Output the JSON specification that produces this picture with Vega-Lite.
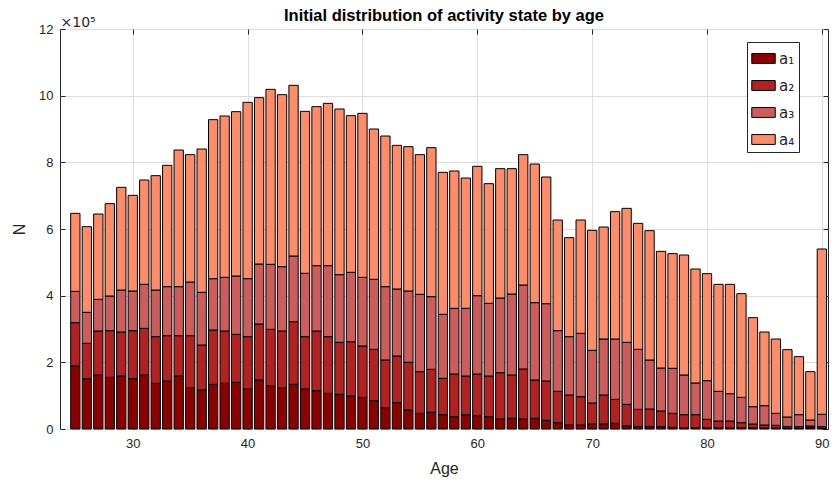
{
  "$schema": "https://vega.github.io/schema/vega-lite/v6.json",
  "width": 768,
  "height": 400,
  "autosize": "none",
  "padding": {"left": 60, "top": 29, "right": 10, "bottom": 52},
  "background": "white",
  "config": {
    "font": "Liberation Sans",
    "view": {"stroke": "#262626", "strokeWidth": 1},
    "axis": {
      "labelFont": "Liberation Sans",
      "labelFontSize": 13,
      "labelColor": "#262626",
      "titleFont": "Liberation Sans",
      "titleFontSize": 16,
      "titleFontWeight": "normal",
      "titleColor": "#262626",
      "gridColor": "#dedede",
      "gridWidth": 1,
      "domain": false,
      "tickColor": "#262626",
      "tickSize": -5,
      "labelPadding": 13
    }
  },
  "title": {
    "text": "Initial distribution of activity state by age",
    "fontSize": 16.5,
    "fontWeight": "bold",
    "font": "Liberation Sans",
    "color": "black",
    "anchor": "middle",
    "offset": -9
  },
  "data": {
    "values": [
      {"age": 25, "a1": 189000, "a2": 130000, "a3": 94000, "a4": 234000},
      {"age": 26, "a1": 151000, "a2": 106000, "a3": 93000, "a4": 257000},
      {"age": 27, "a1": 162000, "a2": 132000, "a3": 95000, "a4": 256000},
      {"age": 28, "a1": 155000, "a2": 140000, "a3": 104000, "a4": 277000},
      {"age": 29, "a1": 159000, "a2": 132000, "a3": 126000, "a4": 308000},
      {"age": 30, "a1": 151000, "a2": 144000, "a3": 119000, "a4": 287000},
      {"age": 31, "a1": 162000, "a2": 140000, "a3": 132000, "a4": 313000},
      {"age": 32, "a1": 137000, "a2": 140000, "a3": 140000, "a4": 343000},
      {"age": 33, "a1": 144000, "a2": 136000, "a3": 147000, "a4": 364000},
      {"age": 34, "a1": 159000, "a2": 121000, "a3": 147000, "a4": 410000},
      {"age": 35, "a1": 124000, "a2": 156000, "a3": 161000, "a4": 382000},
      {"age": 36, "a1": 117000, "a2": 135000, "a3": 158000, "a4": 430000},
      {"age": 37, "a1": 134000, "a2": 163000, "a3": 154000, "a4": 477000},
      {"age": 38, "a1": 137000, "a2": 157000, "a3": 161000, "a4": 484000},
      {"age": 39, "a1": 140000, "a2": 144000, "a3": 175000, "a4": 493000},
      {"age": 40, "a1": 120000, "a2": 157000, "a3": 174000, "a4": 529000},
      {"age": 41, "a1": 147000, "a2": 168000, "a3": 180000, "a4": 499000},
      {"age": 42, "a1": 130000, "a2": 169000, "a3": 195000, "a4": 525000},
      {"age": 43, "a1": 124000, "a2": 170000, "a3": 193000, "a4": 516000},
      {"age": 44, "a1": 134000, "a2": 188000, "a3": 197000, "a4": 512000},
      {"age": 45, "a1": 120000, "a2": 157000, "a3": 190000, "a4": 486000},
      {"age": 46, "a1": 115000, "a2": 179000, "a3": 196000, "a4": 477000},
      {"age": 47, "a1": 107000, "a2": 170000, "a3": 213000, "a4": 487000},
      {"age": 48, "a1": 104000, "a2": 156000, "a3": 203000, "a4": 497000},
      {"age": 49, "a1": 99000, "a2": 163000, "a3": 208000, "a4": 470000},
      {"age": 50, "a1": 95000, "a2": 154000, "a3": 206000, "a4": 492000},
      {"age": 51, "a1": 85000, "a2": 154000, "a3": 210000, "a4": 451000},
      {"age": 52, "a1": 64000, "a2": 143000, "a3": 220000, "a4": 452000},
      {"age": 53, "a1": 79000, "a2": 140000, "a3": 201000, "a4": 431000},
      {"age": 54, "a1": 57000, "a2": 143000, "a3": 214000, "a4": 433000},
      {"age": 55, "a1": 47000, "a2": 125000, "a3": 232000, "a4": 419000},
      {"age": 56, "a1": 50000, "a2": 129000, "a3": 218000, "a4": 447000},
      {"age": 57, "a1": 43000, "a2": 109000, "a3": 192000, "a4": 426000},
      {"age": 58, "a1": 37000, "a2": 128000, "a3": 197000, "a4": 412000},
      {"age": 59, "a1": 43000, "a2": 116000, "a3": 203000, "a4": 391000},
      {"age": 60, "a1": 40000, "a2": 125000, "a3": 235000, "a4": 388000},
      {"age": 61, "a1": 37000, "a2": 122000, "a3": 218000, "a4": 359000},
      {"age": 62, "a1": 30000, "a2": 139000, "a3": 224000, "a4": 388000},
      {"age": 63, "a1": 32000, "a2": 130000, "a3": 243000, "a4": 376000},
      {"age": 64, "a1": 30000, "a2": 150000, "a3": 252000, "a4": 391000},
      {"age": 65, "a1": 32000, "a2": 115000, "a3": 232000, "a4": 416000},
      {"age": 66, "a1": 26000, "a2": 118000, "a3": 232000, "a4": 380000},
      {"age": 67, "a1": 19000, "a2": 94000, "a3": 182000, "a4": 332000},
      {"age": 68, "a1": 12000, "a2": 90000, "a3": 175000, "a4": 297000},
      {"age": 69, "a1": 12000, "a2": 85000, "a3": 190000, "a4": 340000},
      {"age": 70, "a1": 15000, "a2": 63000, "a3": 158000, "a4": 360000},
      {"age": 71, "a1": 15000, "a2": 87000, "a3": 168000, "a4": 336000},
      {"age": 72, "a1": 17000, "a2": 72000, "a3": 181000, "a4": 382000},
      {"age": 73, "a1": 9000, "a2": 65000, "a3": 186000, "a4": 402000},
      {"age": 74, "a1": 7000, "a2": 52000, "a3": 180000, "a4": 378000},
      {"age": 75, "a1": 7000, "a2": 53000, "a3": 147000, "a4": 388000},
      {"age": 76, "a1": 7000, "a2": 47000, "a3": 129000, "a4": 350000},
      {"age": 77, "a1": 5000, "a2": 42000, "a3": 135000, "a4": 344000},
      {"age": 78, "a1": 4000, "a2": 39000, "a3": 119000, "a4": 360000},
      {"age": 79, "a1": 4000, "a2": 39000, "a3": 95000, "a4": 342000},
      {"age": 80, "a1": 4000, "a2": 25000, "a3": 116000, "a4": 321000},
      {"age": 81, "a1": 4000, "a2": 20000, "a3": 89000, "a4": 321000},
      {"age": 82, "a1": 4000, "a2": 20000, "a3": 82000, "a4": 328000},
      {"age": 83, "a1": 4000, "a2": 15000, "a3": 76000, "a4": 311000},
      {"age": 84, "a1": 4000, "a2": 11000, "a3": 52000, "a4": 267000},
      {"age": 85, "a1": 3000, "a2": 9000, "a3": 58000, "a4": 221000},
      {"age": 86, "a1": 3000, "a2": 8000, "a3": 36000, "a4": 223000},
      {"age": 87, "a1": 2000, "a2": 5000, "a3": 29000, "a4": 202000},
      {"age": 88, "a1": 2000, "a2": 5000, "a3": 36000, "a4": 174000},
      {"age": 89, "a1": 4000, "a2": 5000, "a3": 18000, "a4": 145000},
      {"age": 90, "a1": 2000, "a2": 5000, "a3": 37000, "a4": 496000}
    ]
  },
  "transform": [
    {"fold": ["a1", "a2", "a3", "a4"], "as": ["state", "n"]}
  ],
  "layer": [
    {
      "mark": {"type": "bar", "size": 9.3, "stroke": "black", "strokeWidth": 1, "opacity": 1},
      "encoding": {
        "x": {
          "field": "age",
          "type": "quantitative",
          "scale": {"domain": [24.1, 90.1], "nice": false, "zero": false},
          "axis": {
            "values": [30, 40, 50, 60, 70, 80, 90],
            "grid": true,
            "title": "Age",
            "titleX": 384,
            "titleY": 39,
            "titleBaseline": "middle",
            "labelPadding": 13
          }
        },
        "y": {
          "field": "n",
          "type": "quantitative",
          "stack": "zero",
          "scale": {"domain": [0, 1200000], "nice": false},
          "axis": {
            "values": [0, 200000, 400000, 600000, 800000, 1000000, 1200000],
            "labelExpr": "format(datum.value / 100000, 'd')",
            "grid": true,
            "title": "N",
            "titleX": -41,
            "titleY": 200,
            "titleBaseline": "middle",
            "labelPadding": 12
          }
        },
        "color": {
          "field": "state",
          "type": "nominal",
          "scale": {
            "domain": ["a1", "a2", "a3", "a4"],
            "range": ["#8b0000", "#b22222", "#cd5c5c", "#ff8c69"]
          },
          "legend": {
            "orient": "none",
            "legendX": 687,
            "legendY": 13,
            "title": null,
            "symbolType": "M-1,-0.42H1V0.42H-1Z",
            "symbolSize": 552,
            "symbolStrokeColor": "black",
            "symbolStrokeWidth": 1,
            "symbolOpacity": 1,
            "labelExpr": "{'a1': 'a₁\u2003\u2003', 'a2': 'a₂\u2003\u2003', 'a3': 'a₃\u2003\u2003', 'a4': 'a₄\u2003\u2003'}[datum.label]",
            "labelFont": "DejaVu Sans",
            "labelFontSize": 15,
            "labelColor": "#262626",
            "labelOffset": 3,
            "rowPadding": 6,
            "padding": 4,
            "strokeColor": "#262626",
            "fillColor": "white"
          }
        },
        "order": {"field": "state", "sort": "ascending"}
      }
    },
    {
      "mark": {"type": "point", "opacity": 0},
      "encoding": {
        "x": {
          "field": "age",
          "type": "quantitative",
          "scale": {"domain": [24.1, 90.1], "nice": false, "zero": false},
          "axis": {
            "orient": "top",
            "values": [30, 40, 50, 60, 70, 80, 90],
            "labels": false,
            "grid": false,
            "title": "×10⁵",
            "titleFont": "DejaVu Sans",
            "titleFontSize": 14,
            "titleX": 0,
            "titleY": -3,
            "titleAlign": "left",
            "titleAnchor": "start",
            "titleBaseline": "alphabetic",
            "titleAngle": 0
          }
        },
        "y": {
          "field": "n",
          "type": "quantitative",
          "scale": {"domain": [0, 1200000], "nice": false},
          "axis": {
            "orient": "right",
            "values": [0, 200000, 400000, 600000, 800000, 1000000, 1200000],
            "labels": false,
            "grid": false,
            "title": null
          }
        }
      }
    }
  ],
  "resolve": {"axis": {"x": "independent", "y": "independent"}}
}
